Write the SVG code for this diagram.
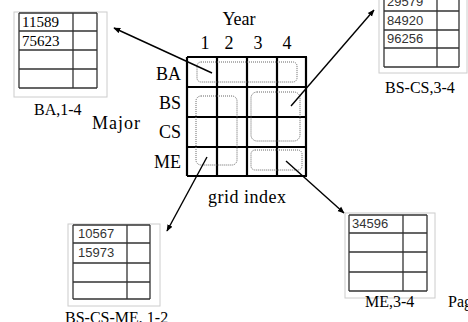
<svg xmlns="http://www.w3.org/2000/svg" width="468" height="322" viewBox="0 0 468 322">
<style>
.lbl{font-family:"Liberation Serif","Times New Roman",serif;font-size:18px;fill:#000}
.cap{font-family:"Liberation Serif","Times New Roman",serif;font-size:16px;fill:#000}
.num{font-family:"Liberation Sans",Arial,sans-serif;font-size:13px;fill:#333}
.numS{font-family:"Liberation Serif","Times New Roman",serif;font-size:15px;fill:#000}
.box{fill:#fff;stroke:#ccc;stroke-width:1}
.tbl{fill:none;stroke:#333;stroke-width:1.3}
.grid{fill:none;stroke:#000;stroke-width:2.2}
.dot{fill:none;stroke:#666;stroke-width:1;stroke-dasharray:1 1}
.conn{stroke:#000;stroke-width:1.4;fill:none}
</style>
<defs>
<marker id="ah" viewBox="0 0 10 10" refX="9" refY="5" markerWidth="7" markerHeight="7" orient="auto" markerUnits="userSpaceOnUse">
<path d="M0,1 L10,5 L0,9 z" fill="#000"/>
</marker>
</defs>
<rect width="468" height="322" fill="#fff"/>

<g id="grid-index">
<text class="lbl" x="239" y="25" text-anchor="middle">Year</text>
<text class="lbl" x="205" y="49" text-anchor="middle">1</text>
<text class="lbl" x="229" y="49" text-anchor="middle">2</text>
<text class="lbl" x="258" y="49" text-anchor="middle">3</text>
<text class="lbl" x="287" y="49" text-anchor="middle">4</text>
<text class="lbl" x="181" y="80" text-anchor="end">BA</text>
<text class="lbl" x="181" y="109" text-anchor="end">BS</text>
<text class="lbl" x="181" y="138" text-anchor="end">CS</text>
<text class="lbl" x="181" y="168" text-anchor="end">ME</text>
<text class="lbl" x="92" y="129" textLength="48">Major</text>
<text class="lbl" x="247" y="203" text-anchor="middle" textLength="78">grid index</text>
<path class="grid" d="M187,57 H307 M187,87 H307 M187,117 H307 M187,147 H307 M187,176 H307 M187,57 V176 M217,57 V176 M247,57 V176 M277,57 V176 M306,57 V176"/>
<rect class="dot" x="197" y="62" width="100" height="20" rx="4"/>
<rect class="dot" x="196" y="96" width="41" height="69" rx="5"/>
<rect class="dot" x="251" y="92" width="49" height="49" rx="6"/>
<rect class="dot" x="251" y="150" width="51" height="20" rx="4"/>
</g>

<g id="page-BA">
<rect class="box" x="14" y="12" width="93" height="85"/>
<path class="tbl" d="M19,13 H97 M19,31 H97 M19,50 H97 M19,69 H97 M19,88 H97 M19,13 V88 M73,13 V88 M97,13 V88"/>
<text class="numS" x="22" y="27">11589</text>
<text class="numS" x="22" y="46">75623</text>
<text class="cap" x="34" y="115">BA,1-4</text>
</g>

<g id="page-BS-CS">
<rect class="box" x="379" y="-10" width="88" height="83"/>
<path class="tbl" d="M384,-8 H459 M384,11 H459 M384,30 H459 M384,48 H459 M384,67 H459 M384,-8 V67 M437,-8 V67 M459,-8 V67"/>
<text class="num" x="387" y="6">29579</text>
<text class="num" x="387" y="25">84920</text>
<text class="num" x="387" y="43">96256</text>
<text class="cap" x="385" y="93">BS-CS,3-4</text>
</g>

<g id="page-BS-CS-ME">
<rect class="box" x="68" y="224" width="92" height="82"/>
<path class="tbl" d="M73,225 H150 M73,243 H150 M73,263 H150 M73,282 H150 M73,299 H150 M73,225 V299 M127,225 V299 M150,225 V299"/>
<text class="num" x="78" y="238">10567</text>
<text class="num" x="78" y="257">15973</text>
<text class="cap" x="65" y="323">BS-CS-ME, 1-2</text>
</g>

<g id="page-ME">
<rect class="box" x="345" y="213" width="90" height="85"/>
<path class="tbl" d="M349,215 H427 M349,233 H427 M349,252 H427 M349,272 H427 M349,291 H427 M349,215 V291 M403,215 V291 M427,215 V291"/>
<text class="num" x="352" y="228" font-size="14" fill="#111">34596</text>
<text class="cap" x="365" y="307">ME,3-4</text>
<text class="cap" x="448" y="307">Pag</text>
</g>

<g id="connectors">
<line class="conn" x1="212" y1="73" x2="114" y2="28" marker-end="url(#ah)"/>
<line class="conn" x1="291" y1="106" x2="374" y2="10" marker-end="url(#ah)"/>
<line class="conn" x1="286" y1="161" x2="344" y2="213" marker-end="url(#ah)"/>
<line class="conn" x1="207" y1="157" x2="167" y2="231" marker-end="url(#ah)"/>
</g>
</svg>
